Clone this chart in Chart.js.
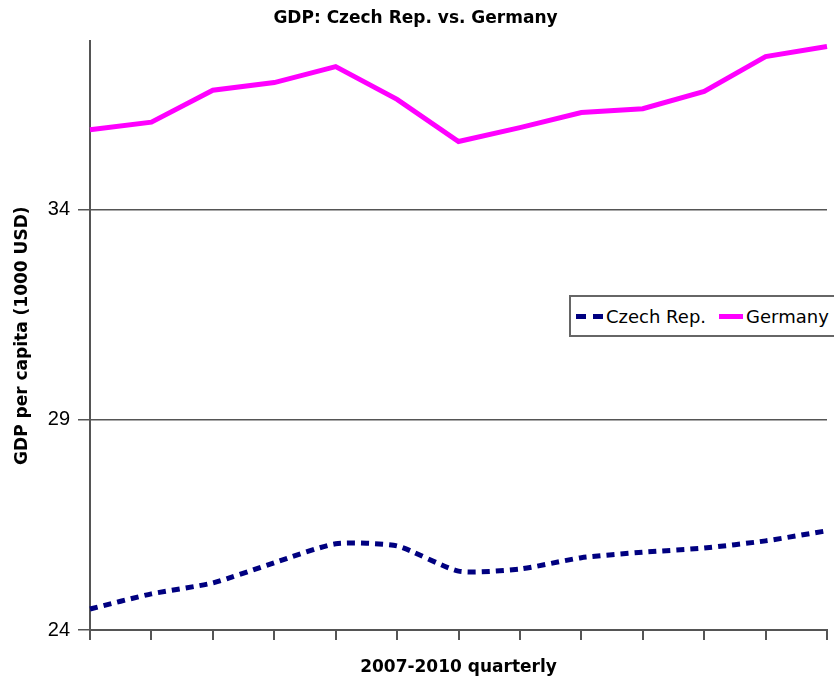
<!DOCTYPE html>
<html>
<head>
<meta charset="utf-8">
<script src="https://cdn.jsdelivr.net/npm/chart.js@4.4.0/dist/chart.umd.min.js"></script>
<style>
  html, body { margin: 0; padding: 0; background: #fff; overflow: hidden; }
  #wrap { position: relative; width: 834px; height: 680px; }
  #legend {
    position: absolute; left: 569px; top: 295px; width: 280px; height: 42px;
    border: 2px solid #666; box-sizing: border-box; background: #fff;
    font-family: "DejaVu Sans", sans-serif; font-size: 18px; color: #000;
    display: flex; align-items: center; white-space: nowrap;
  }
  #legend .sw { display: inline-block; width: 27px; height: 0; margin: 0 3px 0 5px; }
  #legend .cz { border-top: 5px dashed #000080; }
  #legend .de { border-top: 5px solid #ff00ff; width: 24px; margin-left: 13px; }
</style>
</head>
<body>
<div id="wrap">
  <canvas id="c" width="834" height="680"></canvas>
  <div id="legend"><span class="sw cz"></span>Czech Rep.<span class="sw de"></span>Germany</div>
</div>
<script>
// quarters 2007-2010 (13 points shown)
var quarters = ['1', '2', '3', '4', '5', '6', '7', '8', '9', '10', '11', '12', '13'];
var czech = [24.5, 24.86, 25.12, 25.6, 26.05, 26.0, 25.4, 25.45, 25.72, 25.85, 25.95, 26.12, 26.36];
var germany = [35.9, 36.08, 36.84, 37.02, 37.4, 36.62, 35.62, 35.95, 36.31, 36.4, 36.81, 37.64, 37.88];
var yTicks = [24, 29, 34];

var axisColor = '#555';

new Chart(document.getElementById('c'), {
  type: 'line',
  data: {
    labels: quarters,
    datasets: [{
      label: 'Czech Rep.',
      data: czech,
      borderColor: '#000080',
      borderWidth: 5,
      borderDash: [8, 6],
      pointRadius: 0,
      tension: 0.2,
      fill: false
    }, {
      label: 'Germany',
      data: germany,
      borderColor: '#ff00ff',
      borderWidth: 5,
      pointRadius: 0,
      tension: 0,
      fill: false
    }]
  },
  options: {
    responsive: false,
    animation: false,
    layout: { padding: { left: 4, right: 7, top: 1, bottom: 0 } },
    plugins: {
      legend: { display: false },
      tooltip: { enabled: false },
      title: {
        display: true,
        text: 'GDP: Czech Rep. vs. Germany',
        color: '#000',
        font: { family: 'DejaVu Sans', size: 17, weight: 'bold' },
        padding: { top: 7, bottom: 13 }
      }
    },
    scales: {
      x: {
        offset: false,
        border: { display: true, color: axisColor, width: 2 },
        grid: { drawOnChartArea: false, drawTicks: true, tickLength: 10, color: axisColor, lineWidth: 2 },
        ticks: { display: false },
        title: {
          display: true,
          text: '2007-2010 quarterly',
          color: '#000',
          font: { family: 'DejaVu Sans', size: 17, weight: 'bold' },
          padding: { top: 0, bottom: 2 }
        },
        afterFit: function (s) { s.height = 50; }
      },
      y: {
        min: 24,
        max: 38,
        afterBuildTicks: function (s) { s.ticks = yTicks.map(function (v) { return { value: v }; }); },
        border: { display: true, color: axisColor, width: 2 },
        grid: { drawOnChartArea: true, drawTicks: true, tickLength: 12, color: axisColor, lineWidth: 1.5 },
        ticks: {
          color: '#000',
          padding: 8,
          font: { family: 'Liberation Sans', size: 20 }
        },
        title: {
          display: true,
          text: 'GDP per capita (1000 USD)',
          color: '#000',
          font: { family: 'DejaVu Sans', size: 17, weight: 'bold' },
          padding: { top: 8, bottom: 0 }
        },
        afterFit: function (s) { s.width = 86; }
      }
    }
  }
});
</script>
</body>
</html>
